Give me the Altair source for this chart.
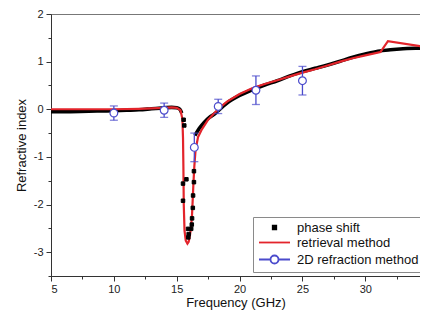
import altair as alt
import pandas as pd

FONT = "Liberation Sans"

# phase shift: dense (thick) curve, two branches
ps_curve1_f = [5, 6, 8, 10, 11, 12, 13, 14, 14.6, 15.0, 15.25, 15.4]
ps_curve1_n = [-0.05, -0.05, -0.04, -0.03, -0.02, -0.01, 0.01, 0.03, 0.04, 0.03, 0.0, -0.08]
ps_curve2_f = [16.45, 16.8, 17.2, 17.6, 18, 18.5, 19, 20, 21, 22, 23, 24, 25, 26, 27, 28, 29, 30, 31, 32, 33, 34, 35]
ps_curve2_n = [-0.55, -0.4, -0.27, -0.17, -0.1, 0.02, 0.13, 0.29, 0.41, 0.51, 0.6, 0.7, 0.79, 0.86, 0.93, 1.01, 1.09, 1.16, 1.22, 1.25, 1.27, 1.28, 1.28]

# phase shift: sparse points in the resonance
ps_pts_f = [15.55, 15.6, 15.5, 15.77, 15.5, 15.9, 15.92, 15.95, 16.15, 16.2, 16.22, 16.28, 16.3, 16.37, 16.37]
ps_pts_n = [-0.22, -0.34, -1.56, -1.47, -1.92, -2.51, -2.69, -2.62, -2.51, -2.42, -2.29, -2.07, -1.81, -1.53, -1.3]

# retrieval method
ret_f = [5, 8, 10, 12, 13, 14, 14.6, 15.0, 15.3, 15.45, 15.5, 15.53, 15.56, 15.62, 15.72, 15.85, 15.95, 16.05,
         16.15, 16.22, 16.28, 16.33, 16.4, 16.5, 16.7, 17.0, 17.5, 18, 18.5, 19, 20, 21, 22, 23, 24, 25, 26, 27,
         28, 29, 30, 31.2, 31.8, 35]
ret_n = [0.0, 0.0, 0.0, 0.01, 0.02, 0.03, 0.04, 0.03, -0.02, -0.2, -0.6, -1.2, -2.0, -2.55, -2.76, -2.82, -2.78, -2.65,
         -2.45, -2.2, -1.85, -1.55, -1.2, -0.85, -0.58, -0.42, -0.22, -0.08, 0.05, 0.16, 0.32, 0.44, 0.53, 0.61, 0.69,
         0.77, 0.84, 0.92, 1.0, 1.07, 1.13, 1.2, 1.43, 1.3]

# 2D refraction method
ref_f = [10, 14, 16.4, 18.3, 21.3, 25]
ref_n = [-0.08, -0.02, -0.8, 0.06, 0.4, 0.6]
ref_err = [0.15, 0.15, 0.3, 0.15, 0.3, 0.3]

x_ticks = [5, 7.5, 10, 12.5, 15, 17.5, 20, 22.5, 25, 27.5, 30, 32.5]
y_major = [-3, -2, -1, 0, 1, 2]
y_minor = [-3.5, -2.5, -1.5, -0.5, 0.5, 1.5]

series = ["phase shift", "retrieval method", "2D refraction method"]
stroke_range = ["#000000", "#e3242b", "#4b4bcc"]
fill_range = ["#000000", "transparent", "#ffffff"]
shape_range = [
    "M-0.35,-0.35H0.35V0.35H-0.35Z",
    "M-3.1,0H3.1",
    "M-3.1,0H-0.8M0.8,0H3.1M-0.8,0A0.8,0.8 0 1,0 0.8,0A0.8,0.8 0 1,0 -0.8,0",
]

curve_df = pd.DataFrame({
    "f": ps_curve1_f + ps_curve2_f,
    "n": ps_curve1_n + ps_curve2_n,
    "seg": ["a"] * len(ps_curve1_f) + ["b"] * len(ps_curve2_f),
})
pts_df = pd.DataFrame({"f": ps_pts_f, "n": ps_pts_n, "series": series[0]})
ret_df = pd.DataFrame({"f": ret_f, "n": ret_n, "series": series[1]})
ref_df = pd.DataFrame({
    "f": ref_f, "n": ref_n,
    "lo": [a - b for a, b in zip(ref_n, ref_err)],
    "hi": [a + b for a, b in zip(ref_n, ref_err)],
    "series": series[2],
})

xscale = alt.Scale(domain=[5, 34.35], nice=False, zero=False)
yscale = alt.Scale(domain=[-3.5, 2], nice=False, zero=False)

xaxis = alt.Axis(
    values=x_ticks, title="Frequency (GHz)", grid=False, labelOverlap=False,
    labelExpr="datum.value == round(datum.value / 5) * 5 ? '' + datum.value : ''",
    tickSize={"condition": {"test": "datum.value == round(datum.value / 5) * 5", "value": 5}, "value": 3},
    labelPadding=2, titlePadding=2,
)
yaxis = alt.Axis(
    values=y_major, title="Refractive index", grid=False, labelOverlap=False,
    labelExpr="'' + datum.value", tickSize=5,
)
yaxis_minor = alt.Axis(
    values=y_minor, title=None, grid=False, labels=False, domain=False, tickSize=3, orient="left",
)

X = alt.X("f:Q", scale=xscale, axis=xaxis)
Y = alt.Y("n:Q", scale=yscale, axis=yaxis)

legend = alt.Legend(
    title=None, orient="none", legendX=202, legendY=203,
    strokeColor="#8a8a8a", fillColor="white", padding=4,
    labelFont=FONT, labelFontSize=13, labelColor="#111",
    symbolSize=100, symbolStrokeWidth=1.8, rowPadding=1,
    labelOffset=16, symbolOffset=11,
)
stroke_enc = alt.Stroke("series:N", scale=alt.Scale(domain=series, range=stroke_range), legend=legend)
fill_enc = alt.Fill("series:N", scale=alt.Scale(domain=series, range=fill_range), legend=legend)
shape_enc = alt.Shape("series:N", scale=alt.Scale(domain=series, range=shape_range), legend=legend)

curve = alt.Chart(curve_df).mark_line(color="black", strokeWidth=3.6, interpolate="monotone", clip=True).encode(
    x=X, y=Y, detail="seg:N"
)
red = alt.Chart(ret_df).mark_line(strokeWidth=2.2, clip=True).encode(x=X, y=Y, stroke=stroke_enc)
squares = alt.Chart(pts_df).mark_point(size=100, opacity=1, strokeWidth=1).encode(
    x=X, y=Y, stroke=stroke_enc, fill=fill_enc, shape=shape_enc
)
bars = alt.Chart(ref_df).mark_rule(color="#4b4bcc", strokeWidth=1.3).encode(x=X, y="lo:Q", y2="hi:Q")
cap_lo = alt.Chart(ref_df).mark_tick(color="#4b4bcc", orient="horizontal", size=8, thickness=1.3).encode(x=X, y="lo:Q")
cap_hi = alt.Chart(ref_df).mark_tick(color="#4b4bcc", orient="horizontal", size=8, thickness=1.3).encode(x=X, y="hi:Q")
circles = alt.Chart(ref_df).mark_point(shape="circle", size=60, opacity=1, strokeWidth=1.2).encode(
    x=X, y=Y, stroke=stroke_enc, fill=fill_enc
)
minor = alt.Chart(ref_df).mark_point(opacity=0).encode(
    x=X, y=alt.Y("n:Q", scale=yscale, axis=yaxis_minor)
)

main = alt.layer(curve, red, squares, bars, cap_lo, cap_hi, circles)

chart = alt.layer(main, minor).resolve_axis(y="independent").properties(
    width=369, height=262,
    autosize=alt.AutoSizeParams(type="none"),
    padding={"left": 43, "top": 6, "right": 0, "bottom": 36},
).configure_view(
    stroke="#777", strokeWidth=1
).configure_axis(
    labelFont=FONT, titleFont=FONT, labelFontSize=11, titleFontSize=13,
    labelColor="#222", titleColor="#111", domainColor="#333", tickColor="#333",
    titleFontWeight="normal", labelPadding=3, titlePadding=5,
)

chart.save("out.html", embed_options={"renderer": "svg", "actions": False})
